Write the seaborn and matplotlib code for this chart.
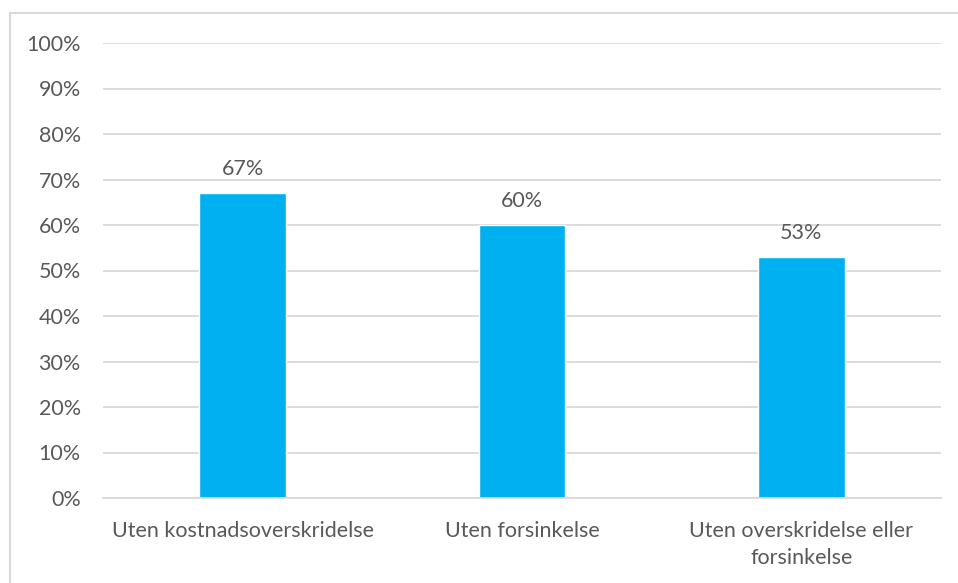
import matplotlib
matplotlib.use("Agg")
import matplotlib.pyplot as plt
from matplotlib.lines import Line2D
import seaborn as sns
import pandas as pd

categories = ["Uten kostnadsoverskridelse", "Uten forsinkelse",
              "Uten overskridelse eller\nforsinkelse"]
values = [67, 60, 53]
y_ticks = [0, 10, 20, 30, 40, 50, 60, 70, 80, 90, 100]

sns.set_theme(style="white")
plt.rcParams["font.family"] = ["Lato", "DejaVu Sans"]

text_color = "#595959"
grid_color = "#D9D9D9"
bar_color = "#00B0F0"
font_size = 15.5

df = pd.DataFrame({"category": categories, "value": values})

fig = plt.figure(figsize=(9.58, 5.83), dpi=100)
ax = fig.add_axes([103 / 958, 1 - 498 / 583, 838 / 958, 455 / 583])

sns.barplot(data=df, x="category", y="value", color=bar_color,
            width=0.31, saturation=1, ax=ax)

ax.set_ylim(0, 100)
ax.set_xlim(-0.5, len(categories) - 0.5)
ax.set_yticks(y_ticks)
ax.set_yticklabels([f"{t}%" for t in y_ticks])
ax.yaxis.grid(True, color=grid_color, linewidth=1.3)
ax.set_axisbelow(True)
for s in ["top", "right", "left"]:
    ax.spines[s].set_visible(False)
ax.spines["bottom"].set_color(grid_color)
ax.spines["bottom"].set_linewidth(1.3)
ax.tick_params(axis="both", length=0, colors=text_color, labelsize=font_size)
ax.tick_params(axis="y", pad=16)
ax.tick_params(axis="x", pad=16.5)
for lbl in ax.get_xticklabels():
    lbl.set_linespacing(1.45)
ax.set_xlabel("")
ax.set_ylabel("")

for i, v in enumerate(values):
    ax.annotate(f"{v}%", xy=(i, v), xytext=(0, 13), textcoords="offset points",
                ha="center", va="baseline", color=text_color, fontsize=font_size)

# light frame along the top and left of the figure
fig.add_artist(Line2D([10 / 958, 10 / 958], [0, 1 - 13 / 583],
                      transform=fig.transFigure, color=grid_color, lw=1.5))
fig.add_artist(Line2D([10 / 958, 1], [1 - 13 / 583, 1 - 13 / 583],
                      transform=fig.transFigure, color=grid_color, lw=1.5))

fig.savefig("out.png", dpi=100)
